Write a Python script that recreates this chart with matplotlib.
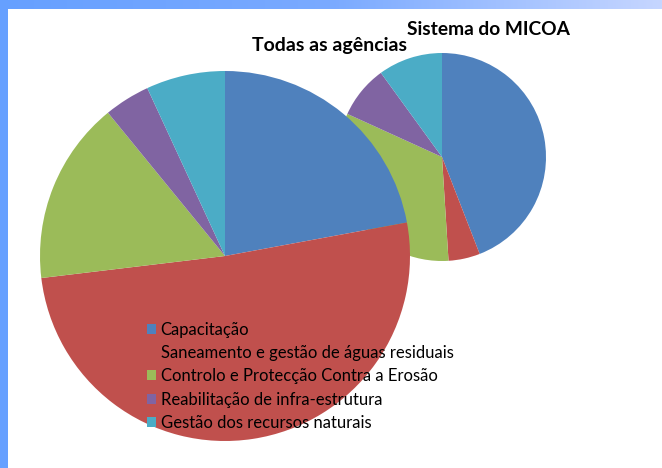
import matplotlib
import numpy as np

matplotlib.use("Agg")
import matplotlib.pyplot as plt
from matplotlib.colors import LinearSegmentedColormap
from matplotlib.patches import Rectangle

categories = [
    "Capacitação",
    "Saneamento e gestão de águas residuais",
    "Controlo e Protecção Contra a Erosão",
    "Reabilitação de infra-estrutura",
    "Gestão dos recursos naturais",
]
todas_values = [22.1, 51.0, 16.0, 4.0, 6.9]
micoa_values = [44.1, 4.9, 32.8, 8.2, 10.0]
colors = ["#4F81BD", "#C0504D", "#9BBB59", "#8064A2", "#4BACC6"]

W, H = 662, 468
plt.rcParams["font.family"] = ["Lato", "DejaVu Sans"]

fig = plt.figure(figsize=(W / 100, H / 100), dpi=100)
ax = fig.add_axes([0, 0, 1, 1])

# small pie first, the big one overlaps it
ax.pie(micoa_values, colors=colors, startangle=90, counterclock=False,
       radius=104, center=(442, H - 157), frame=True,
       wedgeprops=dict(linewidth=0))
wedges, _ = ax.pie(todas_values, colors=colors, startangle=90, counterclock=False,
                   radius=185, center=(225, H - 256), frame=True,
                   wedgeprops=dict(linewidth=0))

ax.text(329.5, H - 51.5, "Todas as agências", ha="center", va="baseline",
        fontsize=14, fontweight="bold", color="black")
ax.text(488, H - 35, "Sistema do MICOA", ha="center", va="baseline",
        fontsize=13.8, fontweight="bold", color="black")

# blue frame: gradient strip on top, solid strip on the left
cmap = LinearSegmentedColormap.from_list("bar", ["#66a0ff", "#7aaaff", "#c6d6ff"])
ax.imshow(np.linspace(0, 1, 256).reshape(1, -1), cmap=cmap, aspect="auto",
          extent=(0, W, H - 9, H), zorder=10)
ax.add_patch(Rectangle((0, 0), 8, H, color="#66a0ff", zorder=11, linewidth=0))

ax.set_xlim(0, W)
ax.set_ylim(0, H)
ax.set_aspect("equal")
ax.set_axis_off()

ax.legend(wedges, categories, loc="upper left",
          bbox_to_anchor=(146.5 / W, 1 - 322 / H), bbox_transform=fig.transFigure,
          frameon=False, fontsize=12, borderpad=0, borderaxespad=0,
          handlelength=0.55, handleheight=0.55, handletextpad=0.3,
          labelspacing=0.43)

fig.savefig("out.png", dpi=100)
